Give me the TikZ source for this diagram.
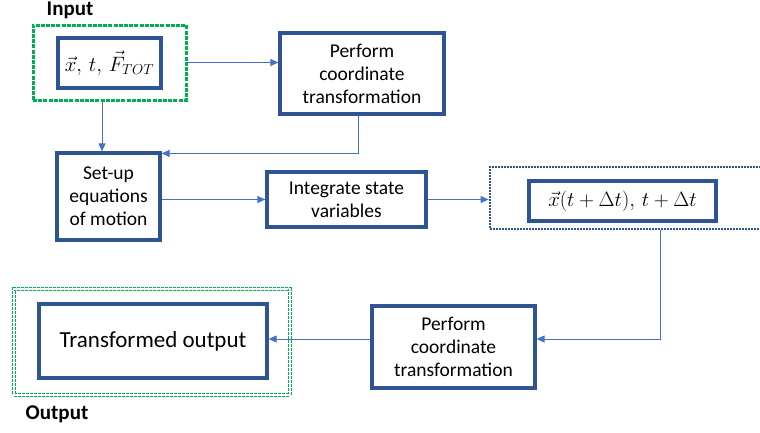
\documentclass[tikz,border=0pt]{standalone}
\usepackage{fontspec}
\setmainfont{Carlito}
\usepackage{amsmath}
\usetikzlibrary{calc,arrows.meta}

\definecolor{boxblue}{HTML}{2F5496}
\definecolor{flowblue}{HTML}{4472C4}
\definecolor{framegreen}{HTML}{00B050}

\tikzset{
  >={Triangle[length=8pt,width=7pt]},
  procbox/.style={draw=boxblue, line width=3.2pt, fill=white, align=center,
    inner sep=0pt, font=\fontsize{19.5}{23}\selectfont},
  flow/.style={->, draw=flowblue, line width=0.9pt},
  inframe/.style={draw=framegreen, line width=3pt, dash pattern=on 4pt off 1.2pt, inner sep=0pt},
  outframe/.style={draw=framegreen, line width=1.2pt, dash pattern=on 3pt off 1pt,
    double=white, double distance=1.2pt, inner sep=0pt},
  stateframe/.style={draw=boxblue, line width=2.8pt, dash pattern=on 2pt off 1pt, inner sep=0pt},
  lbl/.style={font=\fontsize{21}{24}\bfseries\selectfont, inner sep=0pt}
}

\begin{document}
\begin{tikzpicture}[x=1pt,y=-1pt]
    \useasboundingbox (0,0) rectangle (760,432);

    % input
    \node[lbl] (inlbl) at (70,10) {Input};
    \node[inframe, minimum width=153pt, minimum height=75pt] (inbox) at (109.5,62.5) {};
    \node[procbox, minimum width=103pt, minimum height=50pt] (xin) at (109.5,63)
      {$\vec{x},\, t,\, \vec{F}_{TOT}$};

    % processing steps
    \node[procbox, minimum width=164pt, minimum height=81pt] (tr1) at (362,73.5)
      {Perform\\coordinate\\transformation};
    \node[procbox, minimum width=103pt, minimum height=87pt] (setup) at (108.5,196.5)
      {Set-up\\equations\\of motion};
    \node[procbox, minimum width=159pt, minimum height=55pt] (integ) at (346.5,199.5)
      {Integrate state\\variables};
    \node[stateframe, minimum width=280pt, minimum height=62pt] (statebox) at (630,198) {};
    \node[procbox, minimum width=187pt, minimum height=40pt] (xnew) at (622.5,201)
      {$\vec{x}(t+\Delta t),\, t+\Delta t$};
    \node[procbox, minimum width=163pt, minimum height=82pt] (tr2) at (453.5,347)
      {Perform\\coordinate\\transformation};

    % output
    \node[outframe, minimum width=276pt, minimum height=106pt] (outbox) at (152,342) {};
    \node[procbox, minimum width=228pt, minimum height=74pt,
      font=\fontsize{23}{27}\selectfont] (xout) at (153,341) {Transformed output};
    \node[lbl] (outlbl) at (57,414) {Output};

    % connectors
    \draw[flow] (inbox.east) -- (inbox.east -| tr1.west);
    \draw[flow] ([xshift=-7.5pt]inbox.south) -- ([xshift=-7.5pt]inbox.south |- setup.north);
    \draw[flow] ([xshift=-4pt]tr1.south) |- ([yshift=-2pt]setup.north east);
    \draw[flow] (setup.east |- integ.west) -- (integ.west);
    \draw[flow] (integ.east) -- (integ.east -| statebox.west);
    \draw[flow] ([xshift=30pt]statebox.south) |- ([yshift=8pt]tr2.east);
    \draw[flow] ([yshift=8pt]tr2.west) -- ([yshift=8pt]tr2.west -| xout.east);
\end{tikzpicture}
\end{document}
